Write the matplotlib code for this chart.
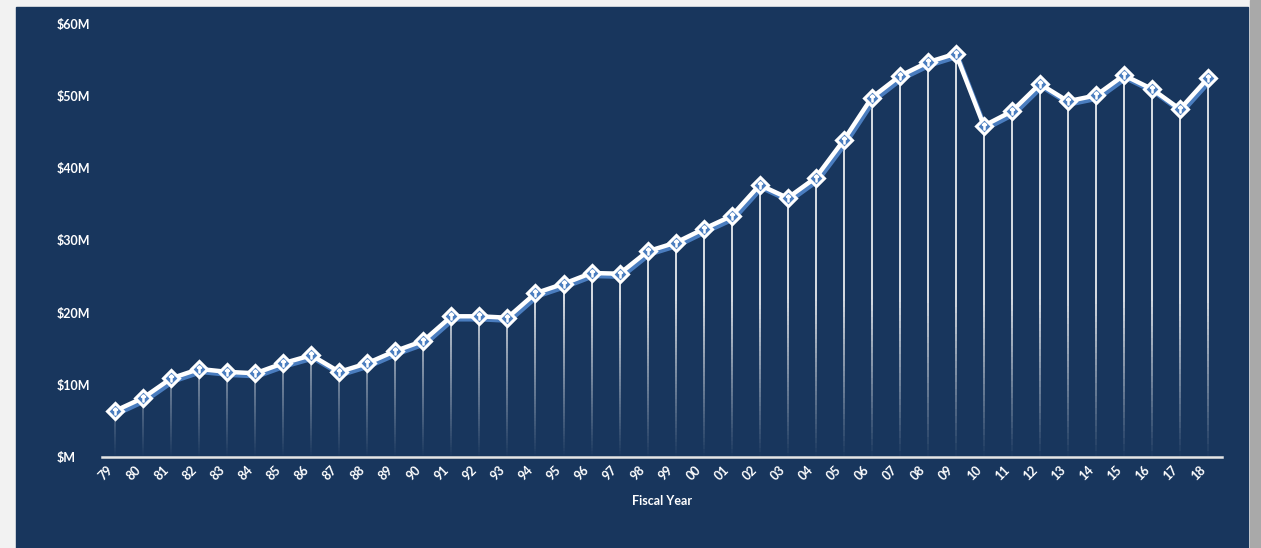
#import packages
import numpy as np
import matplotlib.pyplot as plt
import matplotlib.patheffects as pe
from matplotlib.patches import Rectangle
from matplotlib.collections import LineCollection

#data (millions of dollars)
years = ['79', '80', '81', '82', '83', '84', '85', '86', '87', '88',
         '89', '90', '91', '92', '93', '94', '95', '96', '97', '98',
         '99', '00', '01', '02', '03', '04', '05', '06', '07', '08',
         '09', '10', '11', '12', '13', '14', '15', '16', '17', '18']
funding = [6.4, 8.2, 10.9, 12.2, 11.8, 11.6, 13.0, 14.1, 11.8, 13.0,
           14.7, 16.1, 19.5, 19.5, 19.3, 22.7, 24.0, 25.5, 25.4, 28.5,
           29.7, 31.6, 33.4, 37.7, 35.9, 38.7, 43.9, 49.8, 52.8, 54.7,
           55.9, 45.9, 47.9, 51.7, 49.3, 50.1, 52.9, 51.0, 48.2, 52.5]
yticks = [0, 10, 20, 30, 40, 50, 60]
ytick_labels = ['$M', '$10M', '$20M', '$30M', '$40M', '$50M', '$60M']

navy = '#18365d'
blue = '#4a7dbf'
W, H = 1261, 548

plt.rcParams['font.family'] = ['Lato', 'DejaVu Sans']
plt.rcParams['font.weight'] = 'bold'

fig = plt.figure(figsize=(W / 100, H / 100), dpi=100, facecolor='#f2f2f2')
#navy panel and the grey strip on the right
fig.patches.append(Rectangle((16 / W, 0), (1248 - 16) / W, (H - 7) / H,
                             transform=fig.transFigure, color=navy, zorder=-10))
fig.patches.append(Rectangle((1250 / W, 0), 11 / W, 1,
                             transform=fig.transFigure, color='#a9a9a9', zorder=-10))

ax = fig.add_axes([102 / W, 1 - 457 / H, (1222 - 102) / W, (457 - 24) / H])
ax.set_facecolor('none')
x = np.arange(len(years))

#drop lines fading out towards the base
segs, cols = [], []
for xi, yi in zip(x, funding):
    ys = np.linspace(0, yi, 60)
    for a, b in zip(ys[:-1], ys[1:]):
        segs.append([(xi, a), (xi, b)])
        cols.append((1, 1, 1, min(1.0, (a + b) / 2 / 22) * 0.9))
ax.add_collection(LineCollection(segs, colors=cols, linewidths=1.3, zorder=2))

#main line with blue shadow
ax.plot(x, funding, color='white', lw=3.2, zorder=3, solid_joinstyle='round',
        path_effects=[pe.SimpleLineShadow(offset=(1.5, -2.2), shadow_color=blue, alpha=1),
                      pe.Normal()])
ax.plot(x, funding, ls='none', marker='D', ms=8, mfc=blue, mec='white', mew=2.2, zorder=4)
ax.plot(x, funding, ls='none', marker=r'$\uparrow$', ms=5, color='white', zorder=5)

ax.set_xlim(-0.47, len(years) - 0.5)
ax.set_ylim(0, 60)
ax.set_yticks(yticks)
ax.set_yticklabels(ytick_labels, ha='left')
ax.set_xticks(x)
ax.set_xticklabels(years, rotation=45, ha='right')
ax.tick_params(axis='y', length=0, pad=32.4, labelsize=9, labelcolor='white')
ax.tick_params(axis='x', length=0, pad=5, labelsize=9, labelcolor='white')
for s in ['top', 'right', 'left']:
    ax.spines[s].set_visible(False)
ax.spines['bottom'].set_color('#e6e6e6')
ax.spines['bottom'].set_linewidth(1.8)
ax.set_xlabel('Fiscal Year', color='white', fontsize=9, fontweight='bold', labelpad=9)

fig.savefig('out.png', dpi=100, facecolor=fig.get_facecolor())
